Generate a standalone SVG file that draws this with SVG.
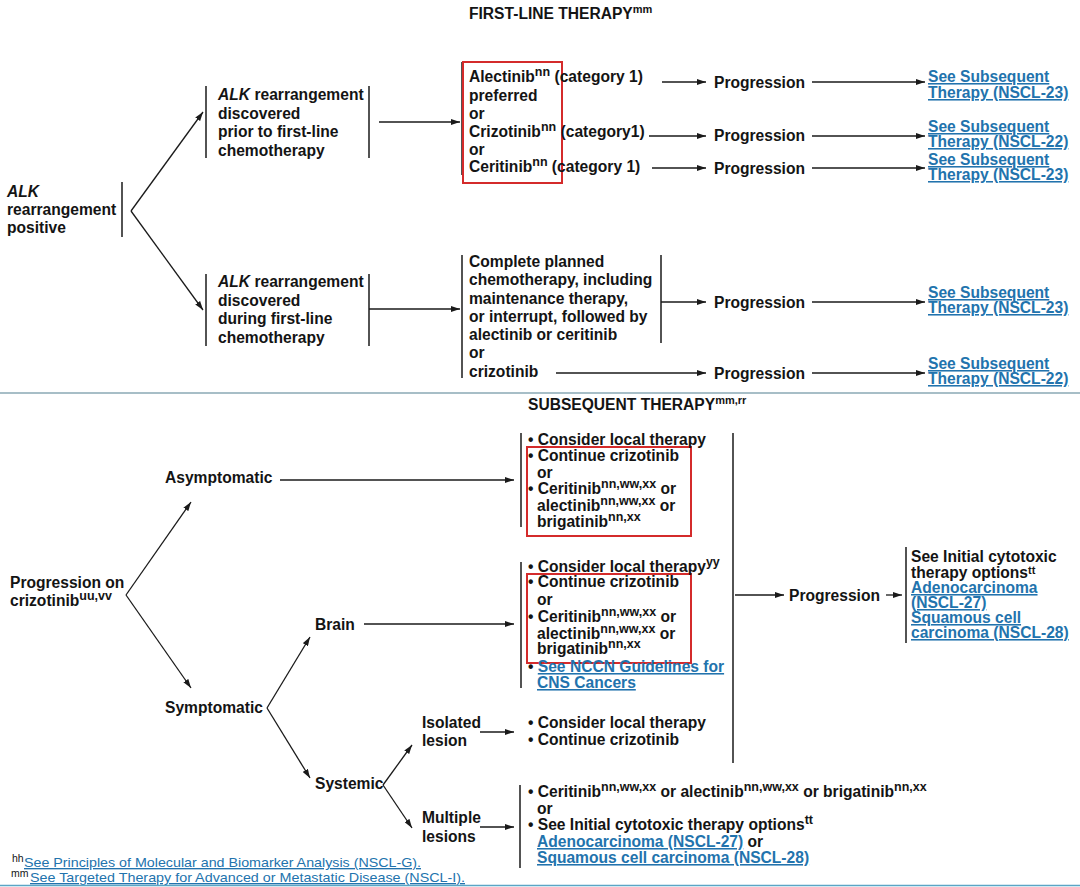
<svg xmlns="http://www.w3.org/2000/svg" width="1080" height="887" viewBox="0 0 1080 887">
<defs>
<style>
text{font-family:"Liberation Sans",Arial,sans-serif;font-weight:bold;font-size:15.6px;fill:#141414}
.lk{fill:#2273ad;text-decoration:underline}
.fn{font-weight:normal;font-size:13.5px}
.fs{font-weight:normal;font-size:10.5px}
.s{font-size:12.5px}
.bar{stroke:#1a1a1a;stroke-width:1.5}
.red{fill:none;stroke:#d42b2b;stroke-width:2}
.cn line{stroke:#1a1a1a;stroke-width:1.3;fill:none;marker-end:url(#ah)}
.sep{stroke:#8aa9b4;stroke-width:1.5}
</style>
<marker id="ah" viewBox="0 0 9 6" refX="9" refY="3" markerWidth="9" markerHeight="6" orient="auto" markerUnits="userSpaceOnUse"><path d="M0,0 L9,3 L0,6 z" fill="#1a1a1a"/></marker>
</defs>
<rect width="1080" height="887" fill="#fff"/>

<text id="title1" x="469" y="19" font-size="15.3">FIRST-LINE THERAPY<tspan dy="-6" font-size="11">mm</tspan></text>

<g id="alk_pos">
<text x="7" y="197"><tspan font-style="italic">ALK</tspan></text>
<text x="7" y="215">rearrangement</text>
<text x="7" y="233">positive</text>
<line class="bar" x1="122" y1="182" x2="122" y2="237"/>
</g>

<g id="prior">
<line class="bar" x1="206" y1="86" x2="206" y2="158"/>
<line class="bar" x1="369" y1="86" x2="369" y2="158"/>
<text x="218" y="100"><tspan font-style="italic">ALK</tspan> rearrangement</text>
<text x="218" y="118.5">discovered</text>
<text x="218" y="137">prior to first-line</text>
<text x="218" y="155.5">chemotherapy</text>
</g>

<g id="during">
<line class="bar" x1="206" y1="274" x2="206" y2="346"/>
<line class="bar" x1="369" y1="274" x2="369" y2="346"/>
<text x="218" y="287"><tspan font-style="italic">ALK</tspan> rearrangement</text>
<text x="218" y="305.5">discovered</text>
<text x="218" y="324">during first-line</text>
<text x="218" y="342.5">chemotherapy</text>
</g>

<g id="firstline_opts">
<line class="bar" x1="462" y1="62" x2="462" y2="175"/>
<rect class="red" x="463" y="62" width="99" height="121"/>
<text x="469" y="82">Alectinib<tspan dy="-6" class="s">nn</tspan><tspan dy="6"> (category 1)</tspan></text>
<text x="469" y="100.5">preferred</text>
<text x="469" y="118.5">or</text>
<text x="469" y="137">Crizotinib<tspan dy="-6" class="s">nn</tspan><tspan dy="6"> (category1)</tspan></text>
<text x="469" y="154.5">or</text>
<text x="469" y="172">Ceritinib<tspan dy="-6" class="s">nn</tspan><tspan dy="6"> (category 1)</tspan></text>
</g>

<g id="complete">
<line class="bar" x1="462" y1="255" x2="462" y2="378"/>
<line class="bar" x1="661" y1="255" x2="661" y2="343"/>
<text x="469" y="267">Complete planned</text>
<text x="469" y="285">chemotherapy, including</text>
<text x="469" y="303.5">maintenance therapy,</text>
<text x="469" y="322">or interrupt, followed by</text>
<text x="469" y="340">alectinib or ceritinib</text>
<text x="469" y="358">or</text>
<text x="469" y="377">crizotinib</text>
</g>

<g id="prog_top">
<text x="714" y="88">Progression</text>
<text x="714" y="141">Progression</text>
<text x="714" y="174">Progression</text>
<text x="714" y="308">Progression</text>
<text x="714" y="378.5">Progression</text>
</g>

<g id="links_top">
<text class="lk" x="928" y="82">See Subsequent</text>
<text class="lk" x="928" y="98">Therapy (NSCL-23)</text>
<text class="lk" x="928" y="132">See Subsequent</text>
<text class="lk" x="928" y="147">Therapy (NSCL-22)</text>
<text class="lk" x="928" y="165">See Subsequent</text>
<text class="lk" x="928" y="180">Therapy (NSCL-23)</text>
<text class="lk" x="928" y="298">See Subsequent</text>
<text class="lk" x="928" y="313">Therapy (NSCL-23)</text>
<text class="lk" x="928" y="369">See Subsequent</text>
<text class="lk" x="928" y="384">Therapy (NSCL-22)</text>
</g>

<line class="sep" x1="0" y1="393" x2="1080" y2="393"/>

<text id="title2" x="528" y="410" font-size="14.8">SUBSEQUENT THERAPY<tspan dy="-6" font-size="11">mm,rr</tspan></text>

<g id="prog_criz">
<text x="10" y="588">Progression on</text>
<text x="10" y="606">crizotinib<tspan dy="-6" class="s">uu,vv</tspan></text>
</g>
<g id="asym"><text x="165" y="483">Asymptomatic</text></g>
<g id="sym"><text x="165" y="713">Symptomatic</text></g>
<g id="brain"><text x="315" y="630">Brain</text></g>
<g id="systemic"><text x="315" y="789">Systemic</text></g>
<g id="isolated"><text x="422" y="728">Isolated</text><text x="422" y="746">lesion</text></g>
<g id="multiple"><text x="422" y="823">Multiple</text><text x="422" y="842">lesions</text></g>

<g id="asym_opts">
<line class="bar" x1="521" y1="433" x2="521" y2="527"/>
<rect class="red" x="527" y="447" width="164" height="89"/>
<text x="528" y="445">• Consider local therapy</text>
<text x="528" y="461">• Continue crizotinib</text>
<text x="537" y="478">or</text>
<text x="528" y="494">• Ceritinib<tspan dy="-6" class="s">nn,ww,xx</tspan><tspan dy="6"> or</tspan></text>
<text x="537" y="511">alectinib<tspan dy="-6" class="s">nn,ww,xx</tspan><tspan dy="6"> or</tspan></text>
<text x="537" y="527">brigatinib<tspan dy="-6" class="s">nn,xx</tspan></text>
</g>

<g id="brain_opts">
<line class="bar" x1="521" y1="562" x2="521" y2="688"/>
<rect class="red" x="527" y="574" width="164" height="89"/>
<text x="528" y="572">• Consider local therapy<tspan dy="-6" class="s">yy</tspan></text>
<text x="528" y="587">• Continue crizotinib</text>
<text x="537" y="605">or</text>
<text x="528" y="622">• Ceritinib<tspan dy="-6" class="s">nn,ww,xx</tspan><tspan dy="6"> or</tspan></text>
<text x="537" y="639">alectinib<tspan dy="-6" class="s">nn,ww,xx</tspan><tspan dy="6"> or</tspan></text>
<text x="537" y="654">brigatinib<tspan dy="-6" class="s">nn,xx</tspan></text>
<text x="528" y="672">• <tspan class="lk">See NCCN Guidelines for</tspan></text>
<text class="lk" x="537" y="688">CNS Cancers</text>
</g>

<g id="isolated_opts">
<text x="528" y="728">• Consider local therapy</text>
<text x="528" y="745">• Continue crizotinib</text>
</g>

<g id="multiple_opts">
<line class="bar" x1="520" y1="785" x2="520" y2="868"/>
<text x="528" y="797">• Ceritinib<tspan dy="-6" class="s">nn,ww,xx</tspan><tspan dy="6"> or alectinib</tspan><tspan dy="-6" class="s">nn,ww,xx</tspan><tspan dy="6"> or brigatinib</tspan><tspan dy="-6" class="s">nn,xx</tspan></text>
<text x="537" y="814">or</text>
<text x="528" y="830">• See Initial cytotoxic therapy options<tspan dy="-6" class="s">tt</tspan></text>
<text x="537" y="847"><tspan class="lk">Adenocarcinoma (NSCL-27)</tspan> or</text>
<text class="lk" x="537" y="863">Squamous cell carcinoma (NSCL-28)</text>
</g>

<g id="merge">
<line class="bar" x1="733" y1="433" x2="733" y2="763"/>
</g>
<g id="prog_bottom"><text x="789" y="601">Progression</text></g>

<g id="cytotoxic">
<line class="bar" x1="906" y1="547" x2="906" y2="643"/>
<text x="911" y="562">See Initial cytotoxic</text>
<text x="911" y="578">therapy options<tspan dy="-4" font-size="11">tt</tspan></text>
<text class="lk" x="911" y="593">Adenocarcinoma</text>
<text class="lk" x="911" y="608">(NSCL-27)</text>
<text class="lk" x="911" y="623">Squamous cell</text>
<text class="lk" x="911" y="638">carcinoma (NSCL-28)</text>
</g>

<g class="cn" id="connectors">
<line x1="131" y1="211" x2="203" y2="112"/>
<line x1="131" y1="211" x2="203" y2="310"/>
<line x1="379" y1="122" x2="460" y2="122"/>
<line x1="369" y1="309" x2="460" y2="309"/>
<line x1="662" y1="82" x2="706" y2="82"/>
<line x1="812" y1="82" x2="925" y2="82"/>
<line x1="649" y1="136" x2="706" y2="136"/>
<line x1="812" y1="136" x2="925" y2="136"/>
<line x1="652" y1="168" x2="706" y2="168"/>
<line x1="812" y1="168" x2="925" y2="168"/>
<line x1="661" y1="302" x2="706" y2="302"/>
<line x1="812" y1="302" x2="925" y2="302"/>
<line x1="556" y1="373" x2="706" y2="373"/>
<line x1="812" y1="373" x2="925" y2="373"/>
<line x1="126" y1="595" x2="191" y2="502"/>
<line x1="126" y1="595" x2="191" y2="688"/>
<line x1="280" y1="480" x2="514" y2="480"/>
<line x1="267" y1="708" x2="310" y2="637"/>
<line x1="267" y1="708" x2="310" y2="778"/>
<line x1="364" y1="624" x2="514" y2="624"/>
<line x1="383" y1="785" x2="412" y2="745"/>
<line x1="383" y1="785" x2="412" y2="828"/>
<line x1="480" y1="732" x2="514" y2="732"/>
<line x1="480" y1="827" x2="514" y2="827"/>
<line x1="735" y1="595" x2="784" y2="595"/>
<line x1="886" y1="595" x2="902" y2="595"/>
</g>

<g id="footnotes">
<text x="12" y="862" class="fs">hh</text>
<text x="24" y="867" class="fn lk" textLength="397" lengthAdjust="spacingAndGlyphs">See Principles of Molecular and Biomarker Analysis (NSCL-G).</text>
<text x="11" y="877" class="fs">mm</text>
<text x="30" y="882" class="fn lk" textLength="435" lengthAdjust="spacingAndGlyphs">See Targeted Therapy for Advanced or Metastatic Disease (NSCL-I).</text>
</g>
<line x1="0" y1="885.5" x2="1080" y2="885.5" stroke="#5aa5c5" stroke-width="1.5"/>
</svg>
